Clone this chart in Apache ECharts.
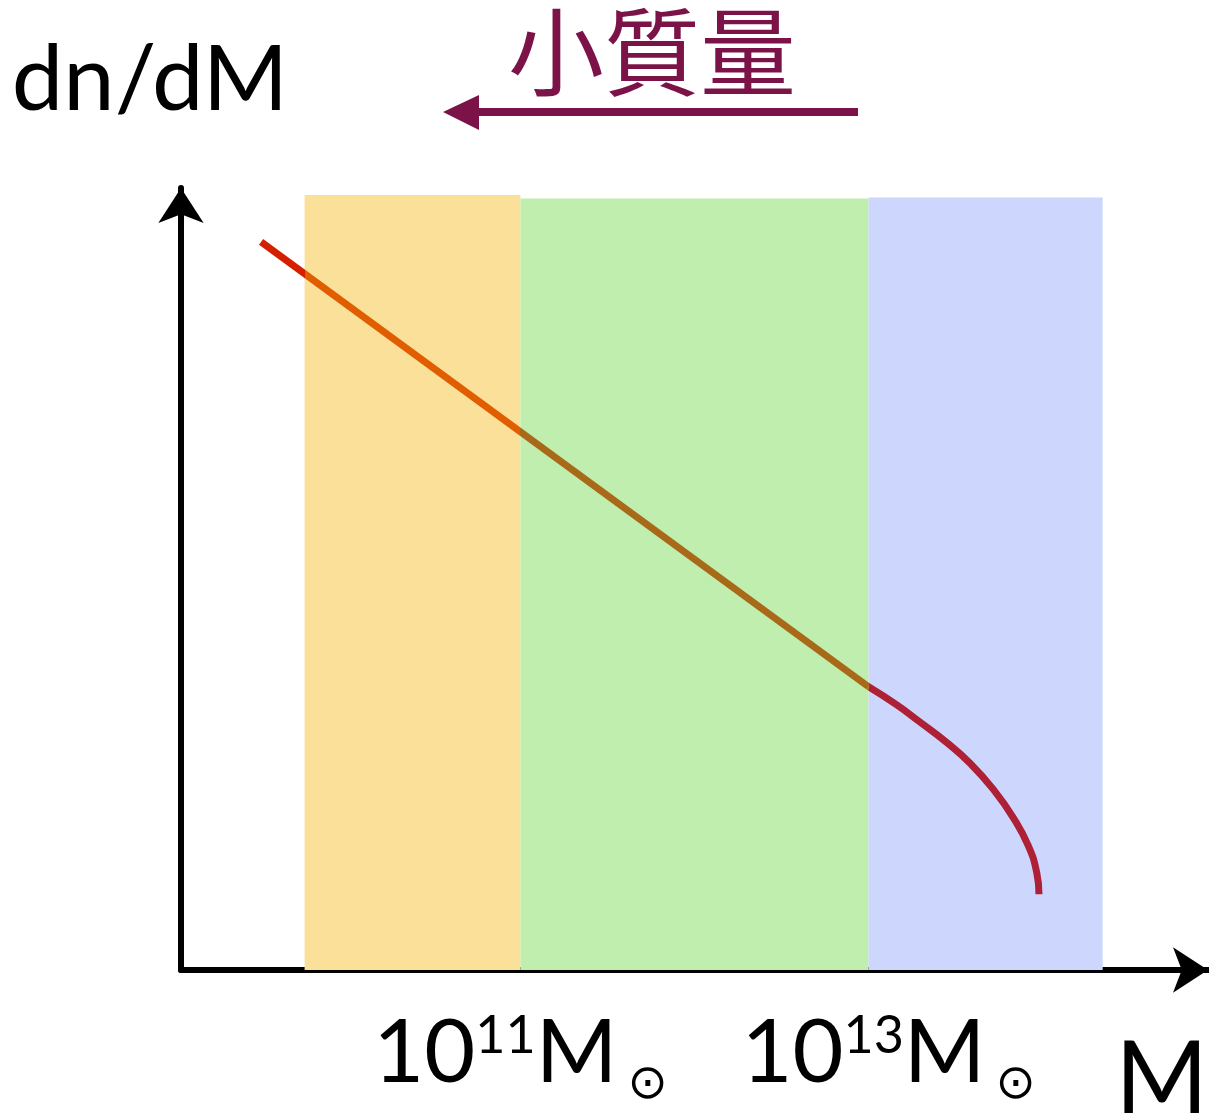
<!DOCTYPE html>
<html>
<head>
<meta charset="utf-8">
<script src="https://cdn.jsdelivr.net/npm/echarts@6/dist/echarts.min.js"></script>
<style>html,body{margin:0;padding:0;background:#fff;}#c{width:1209px;height:1118px;}</style>
</head>
<body>
<div id="c"></div>
<script>
// x: log10(M / Msun), y: log(dn/dM) in arbitrary units
const powerLawX = [9.51, 13.00];
const powerLawY = [4.19, 1.63];
const cutoffX = [13.00, 13.16, 13.295, 13.449, 13.583, 13.717, 13.831, 13.918, 13.966, 13.979];
const cutoffY = [1.63, 1.527, 1.427, 1.309, 1.190, 1.039, 0.877, 0.714, 0.561, 0.436];
const bandStart = [9.76, 11.00, 13.00];
const bandEnd = [11.00, 13.00, 14.345];
const bandTop = [4.46, 4.44, 4.445];
const bandColors = ['#FBE09A', '#C0EEAF', '#CDD6FD'];
const lineColors = ['#D42000', '#E05E00', '#A86A18', '#AE2035'];
const tickValues = [11, 13];
const tickBase = ['10', '10'];
const tickExp = ['11', '13'];
const tickUnit = ['M', 'M'];
const sunSymbol = '⊙';
const titleText = '小質量';
const yName = 'dn/dM';
const xName = 'M';

const chart = echarts.init(document.getElementById('c'), null, {renderer: 'canvas'});
const font = 'Lato, "Open Sans", sans-serif';
const purple = '#7B1248';

const option = {
  animation: false,
  backgroundColor: '#fff',
  title: {
    text: titleText,
    left: 503, top: -8,
    textStyle: {fontFamily: '"Noto Sans CJK JP", "Noto Sans CJK TC", sans-serif', fontSize: 96, fontWeight: 'normal', color: purple, lineHeight: 110}
  },
  grid: {left: 181, right: 1, top: 188, bottom: 148, containLabel: false, outerBoundsMode: 'none'},
  xAxis: {
    type: 'value', min: 9.05, max: 14.95,
    splitLine: {show: false}, axisTick: {show: false},
    axisLine: {onZero: false, lineStyle: {color: '#000', width: 6}, symbol: ['none', 'arrow'], symbolSize: [34, 35], symbolOffset: [0, 0]},
    name: xName, nameLocation: 'end', nameGap: 0,
    nameTextStyle: {fontFamily: font, fontSize: 100, color: '#000', align: 'right', verticalAlign: 'top', lineHeight: 100, padding: [61, 0, 0, 0]},
    axisLabel: {
      customValues: tickValues, margin: 40, showMinLabel: true, showMaxLabel: true,
      formatter: function (v) {
        const i = tickValues.indexOf(Math.round(v));
        if (i < 0) return '';
        const pre = i === 1 ? '{p| }' : '';
        return pre + '{b|' + tickBase[i] + '}{s|' + tickExp[i] + '}{b|' + tickUnit[i] + '}{o|' + sunSymbol + '}';
      },
      rich: {
        p: {width: 40, fontSize: 10, lineHeight: 100},
        b: {fontFamily: font, fontSize: 88, color: '#000', lineHeight: 100, verticalAlign: 'top'},
        s: {fontFamily: font, fontSize: 52, color: '#000', lineHeight: 62, verticalAlign: 'top'},
        o: {fontFamily: '"DejaVu Sans", sans-serif', fontSize: 48, color: '#000', lineHeight: 48, verticalAlign: 'bottom', padding: [0, 0, 0, 10]}
      }
    }
  },
  yAxis: {
    type: 'value', min: 0, max: 4.5,
    splitLine: {show: false}, axisTick: {show: false}, axisLabel: {show: false},
    axisLine: {onZero: false, lineStyle: {color: '#000', width: 6}, symbol: ['none', 'arrow'], symbolSize: [34, 35], symbolOffset: [0, 0]},
    name: yName, nameLocation: 'end', nameGap: 62,
    nameTextStyle: {fontFamily: font, fontSize: 92, color: '#000', lineHeight: 92, padding: [0, 62, 0, 0]}
  },
  visualMap: {
    show: false, type: 'piecewise', dimension: 0, seriesIndex: [1, 2],
    pieces: [
      {lt: bandStart[0], color: lineColors[0]},
      {gte: bandStart[0], lt: bandEnd[0], color: lineColors[1]},
      {gte: bandStart[1], lt: bandEnd[1], color: lineColors[2]},
      {gte: bandStart[2], color: lineColors[3]}
    ]
  },
  graphic: [
    {type: 'line', shape: {x1: 472, y1: 112, x2: 858, y2: 112}, style: {stroke: purple, lineWidth: 8}},
    {type: 'polygon', shape: {points: [[443, 112], [479, 95], [479, 130]]}, style: {fill: purple}}
  ],
  series: [
    {
      type: 'line', data: [], silent: true, z: 1,
      markArea: {
        silent: true,
        data: bandStart.map((s, i) => [
          {xAxis: s, yAxis: 0, itemStyle: {color: bandColors[i], opacity: 1}},
          {xAxis: bandEnd[i], yAxis: bandTop[i]}
        ])
      }
    },
    {
      type: 'line', z: 3, symbol: 'none', smooth: false,
      lineStyle: {width: 7, cap: 'butt'},
      data: powerLawX.map((x, i) => [x, powerLawY[i]])
    },
    {
      type: 'line', z: 3, symbol: 'none', smooth: 0.5,
      lineStyle: {width: 7, cap: 'butt'},
      data: cutoffX.map((x, i) => [x, cutoffY[i]])
    }
  ]
};
chart.setOption(option);
</script>
</body>
</html>
